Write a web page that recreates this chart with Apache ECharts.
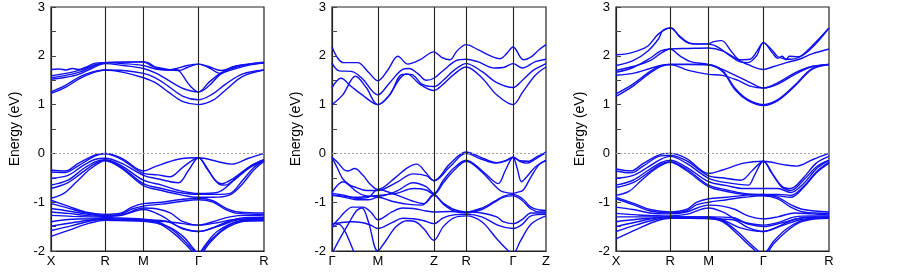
<!DOCTYPE html>
<html>
<head>
<meta charset="utf-8">
<script src="https://cdn.jsdelivr.net/npm/echarts@6.0.0/dist/echarts.min.js"></script>
<style>
html,body{margin:0;padding:0;background:#fff;}
#main{width:903px;height:272px;}
</style>
</head>
<body>
<div id="main"></div>
<script>
// k-path ticks (k as % of path length) and labels
var kTicks1 = [0, 25.4, 43.4, 69.3, 100];
var kNames1 = ['X', 'R', 'M', 'Γ', 'R'];
var kTicks2 = [0, 21.4, 47.6, 62.7, 84.6, 100];
var kNames2 = ['Γ', 'M', 'Z', 'R', 'Γ', 'Z'];
var kTicks3 = [0, 25.4, 43.5, 69.2, 100];
var kNames3 = ['X', 'R', 'M', 'Γ', 'R'];

// ---- panel 1 bands [k, E] ----
var p1c1 = [[0,1.23],[7,1.36],[13,1.52],[19.5,1.65],[25.4,1.71],[34,1.66],[43.4,1.55],[49,1.45],[55,1.26],[62,1.06],[69.3,1.0],[76,1.09],[82,1.3],[90,1.58],[100,1.71]];
var p1c2 = [[0,1.26],[7,1.4],[13,1.56],[19.5,1.67],[25.4,1.71],[34,1.7],[43.4,1.64],[49,1.55],[55,1.38],[62,1.17],[69.3,1.1],[76,1.22],[82,1.42],[90,1.63],[100,1.71]];
var p1c3 = [[0,1.52],[7,1.56],[13,1.62],[19.5,1.75],[25.4,1.84],[34,1.8],[43.4,1.74],[49,1.65],[55,1.5],[62,1.33],[69.3,1.26],[74,1.38],[79.5,1.62],[84,1.7],[92,1.8],[100,1.85]];
var p1c4 = [[0,1.55],[7,1.6],[13,1.66],[19.5,1.78],[25.4,1.86],[34,1.84],[43.4,1.8],[49,1.73],[55,1.71],[58,1.73],[64,1.8],[69.3,1.83],[74,1.76],[79.5,1.64],[84,1.73],[92,1.82],[100,1.86]];
var p1c5 = [[0,1.59],[7,1.64],[13,1.7],[19.5,1.8],[25.4,1.86],[34,1.87],[43.4,1.88],[46,1.85],[50,1.74],[56,1.71],[59,1.72],[61,1.65],[65,1.4],[69.3,1.26],[74,1.45],[79.5,1.64],[86,1.78],[100,1.85]];
var p1c6 = [[0,1.72],[4,1.73],[7,1.71],[10,1.74],[13,1.72],[16,1.76],[21,1.85],[25.4,1.86],[34,1.87],[43.4,1.87],[48,1.78],[55,1.72],[60,1.7],[64,1.76],[69.3,1.83],[74,1.78],[80,1.7],[88,1.8],[100,1.87]];
var p1v1 = [[0,-0.34],[6.7,-0.36],[13,-0.2],[20.8,-0.03],[25.4,0],[33.3,-0.1],[43.4,-0.36],[48.9,-0.27],[59.8,-0.12],[69.3,-0.09],[78.6,-0.17],[84.8,-0.22],[92.7,-0.1],[100,0]];
var p1v2 = [[0,-0.38],[6.7,-0.39],[13,-0.25],[20.8,-0.05],[25.4,-0.01],[33.3,-0.13],[43.4,-0.41],[50,-0.44],[55.8,-0.48],[62,-0.28],[69.3,-0.09],[73,-0.3],[78.6,-0.62],[81.8,-0.65],[88,-0.45],[94,-0.25],[100,-0.13]];
var p1v3 = [[0,-0.51],[8,-0.45],[15,-0.25],[21,-0.12],[25.4,-0.1],[33,-0.2],[43.4,-0.45],[50,-0.52],[59.8,-0.6],[64.5,-0.35],[69.3,-0.09],[73,-0.28],[77,-0.55],[80,-0.62],[86,-0.5],[93,-0.28],[100,-0.13]];
var p1v4 = [[0,-0.65],[8,-0.55],[15,-0.32],[21,-0.17],[25.4,-0.13],[33,-0.25],[43.4,-0.55],[52,-0.65],[60,-0.76],[69.3,-0.82],[78,-0.8],[86,-0.55],[93,-0.3],[100,-0.15]];
var p1v5 = [[0,-0.72],[8,-0.6],[15,-0.38],[21,-0.2],[25.4,-0.14],[33,-0.28],[43.4,-0.62],[52,-0.72],[60,-0.8],[69.3,-0.84],[78,-0.84],[84,-0.82],[90,-0.55],[95,-0.3],[100,-0.15]];
var p1v6 = [[0,-0.92],[6,-0.82],[12,-0.58],[19,-0.3],[25.4,-0.15],[33,-0.3],[43.4,-0.66],[52,-0.76],[60,-0.84],[69.3,-0.9],[76,-0.9],[84,-0.85],[90,-0.62],[95,-0.35],[100,-0.16]];
var p1l1 = [[0,-0.96],[8,-1.08],[16,-1.2],[25.4,-1.25],[33,-1.22],[38,-1.1],[43.4,-1.03],[52,-1.0],[60,-0.95],[69.3,-0.92],[76,-0.97],[82,-1.12],[88,-1.2],[100,-1.22]];
var p1l2 = [[0,-1.03],[8,-1.12],[16,-1.22],[25.4,-1.27],[33,-1.24],[38,-1.14],[43.4,-1.08],[52,-1.04],[60,-0.99],[69.3,-0.95],[76,-1.0],[82,-1.15],[88,-1.23],[100,-1.25]];
var p1l3 = [[0,-1.13],[8,-1.18],[16,-1.24],[25.4,-1.28],[33,-1.26],[43.4,-1.12],[50,-1.14],[56,-1.22],[62,-1.4],[69.3,-1.47],[76,-1.4],[84,-1.3],[92,-1.27],[100,-1.28]];
var p1l4 = [[0,-1.2],[8,-1.23],[16,-1.27],[25.4,-1.29],[33,-1.27],[43.4,-1.15],[52,-1.28],[60,-1.5],[69.3,-1.6],[76,-1.52],[84,-1.38],[92,-1.31],[100,-1.31]];
var p1l5 = [[0,-1.27],[10,-1.29],[25.4,-1.31],[35,-1.33],[43.4,-1.35],[50,-1.4],[58,-1.6],[64,-1.85],[69.3,-2.05],[74,-1.82],[80,-1.58],[86,-1.42],[92,-1.36],[100,-1.34]];
var p1l6 = [[0,-1.4],[10,-1.35],[25.4,-1.34],[35,-1.36],[43.4,-1.37],[50,-1.42],[58,-1.65],[64,-1.9],[69.3,-2.1],[74,-1.86],[80,-1.6],[86,-1.45],[92,-1.38],[100,-1.37]];
var p1l7 = [[0,-1.49],[10,-1.42],[18,-1.37],[25.4,-1.34],[35,-1.35],[43.4,-1.36],[55,-1.4],[62,-1.55],[69.3,-1.6],[78,-1.5],[88,-1.36],[100,-1.33]];
var p1l8 = [[0,-1.58],[10,-1.48],[18,-1.39],[25.4,-1.35],[35,-1.37],[43.4,-1.38],[55,-1.4],[62,-1.44],[69.3,-1.47],[78,-1.42],[88,-1.35],[100,-1.36]];
var p1l9 = [[0,-1.7],[10,-1.55],[18,-1.43],[25.4,-1.37],[35,-1.38],[43.4,-1.39],[55,-1.5],[62,-1.7],[66,-1.9],[69.3,-2.05],[72,-1.9],[78,-1.6],[88,-1.4],[100,-1.38]];

// ---- panel 2 bands ----
var p2c1 = [[0,2.18],[2.7,1.95],[5.3,1.86],[12,1.86],[16.7,1.68],[21.4,1.49],[26.1,1.71],[30.8,1.99],[35.5,1.83],[41.2,1.92],[47.6,2.08],[51.2,1.97],[55.2,1.92],[58.2,2.09],[62.7,2.23],[68.4,2.12],[74.6,1.99],[78.6,1.94],[81.7,2.05],[84.6,2.18],[89.5,1.92],[93.4,1.99],[96.6,2.12],[100,2.23]];
var p2c2 = [[0,1.85],[3.4,1.69],[9,1.68],[14,1.54],[21.4,1.2],[27,1.45],[33,1.72],[36,1.74],[40,1.64],[44,1.5],[47.6,1.54],[52,1.7],[58,1.9],[62.7,1.93],[68,1.88],[76,1.75],[80,1.76],[84.6,1.84],[89,1.75],[95,1.88],[100,1.93]];
var p2c3 = [[0,1.35],[4.2,1.54],[9,1.37],[15,1.17],[21.4,1.0],[27,1.2],[33,1.62],[37,1.62],[42,1.42],[47.6,1.37],[52,1.5],[57,1.7],[62.7,1.84],[70,1.68],[77,1.45],[84.6,1.35],[89,1.5],[94,1.7],[100,1.84]];
var p2c4 = [[0,1.0],[5,1.2],[11,1.58],[16,1.35],[21.4,1.0],[26,1.15],[32,1.55],[35,1.63],[41,1.42],[47.6,1.29],[52,1.42],[57,1.62],[62.7,1.77],[70,1.55],[77,1.2],[84.6,1.0],[89,1.25],[95,1.6],[100,1.77]];
var p2v1 = [[0,-0.08],[3,-0.2],[5.5,-0.33],[7.5,-0.36],[10.6,-0.31],[14.5,-0.45],[17.6,-0.62],[21.4,-0.74],[30,-0.48],[35,-0.3],[39.5,-0.22],[44,-0.4],[47.6,-0.56],[55,-0.22],[62.7,0.03],[69,-0.07],[77,-0.19],[81,-0.15],[84.6,-0.08],[88,-0.17],[91,-0.2],[95,-0.12],[100,0.03]];
var p2v2 = [[0,-0.08],[2.5,-0.3],[5,-0.52],[8,-0.64],[11.4,-0.7],[16,-0.76],[21.4,-0.76],[30,-0.6],[37.9,-0.42],[44.2,-0.46],[47.6,-0.56],[55,-0.28],[62.7,0.0],[70,-0.12],[77,-0.2],[81,-0.16],[84.6,-0.08],[88,-0.15],[92,-0.16],[96,-0.06],[100,0.0]];
var p2v3 = [[0,-0.8],[5.2,-0.58],[8,-0.65],[11.4,-0.78],[15,-0.86],[21.4,-0.88],[30,-0.78],[37.9,-0.6],[44,-0.68],[47.6,-0.82],[52,-0.55],[57,-0.3],[62.7,-0.14],[70,-0.35],[75,-0.55],[77.7,-0.62],[81,-0.35],[84.6,-0.08],[86.5,-0.3],[88.6,-0.58],[91,-0.48],[95,-0.28],[100,-0.14]];
var p2v4 = [[0,-0.85],[6,-0.88],[11.4,-0.9],[17,-0.88],[21.4,-0.86],[30,-0.82],[37.9,-0.72],[44,-0.75],[47.6,-0.84],[52,-0.6],[57,-0.35],[62.7,-0.16],[70,-0.38],[76,-0.66],[78.5,-0.76],[81,-0.8],[84.6,-0.82],[86.5,-0.8],[89.4,-0.75],[93,-0.48],[97,-0.22],[100,-0.15]];
var p2v5 = [[0,-0.82],[6,-0.86],[11.4,-0.92],[17,-0.9],[21.4,-0.74],[30,-0.85],[37.9,-0.98],[43,-1.03],[47.6,-0.86],[52,-1.02],[57,-1.15],[62.7,-1.2],[70,-1.12],[76,-0.98],[80,-0.88],[84.6,-0.84],[89,-0.93],[93,-1.1],[97,-1.16],[100,-1.17]];
var p2v6 = [[0,-0.86],[6,-0.9],[11.4,-0.95],[17,-0.95],[21.4,-0.9],[28,-0.98],[35,-1.04],[42,-1.06],[47.6,-0.84],[52,-1.04],[57,-1.18],[62.7,-1.22],[70,-1.15],[76,-1.0],[80,-0.9],[84.6,-0.87],[89,-0.97],[93,-1.14],[97,-1.2],[100,-1.2]];
var p2l1 = [[0,-1.49],[3,-1.35],[6,-1.2],[9.5,-1.1],[14.5,-1.1],[18.5,-1.22],[21.4,-1.36],[28,-1.2],[33,-1.12],[38,-1.13],[44,-1.18],[47.6,-1.2],[55,-1.19],[62.7,-1.2],[70,-1.22],[77,-1.3],[80,-1.4],[84.6,-1.44],[89,-1.35],[93,-1.22],[100,-1.22]];
var p2l2 = [[0,-1.44],[4,-1.42],[9,-1.4],[14.5,-1.42],[18.5,-1.48],[21.4,-1.54],[28,-1.42],[33,-1.33],[38,-1.34],[43,-1.38],[47.6,-1.44],[52,-1.32],[57,-1.26],[62.7,-1.25],[70,-1.3],[78,-1.48],[84.6,-1.54],[89,-1.45],[93,-1.28],[100,-1.25]];
var p2l3 = [[0,-2.05],[4,-1.72],[8,-1.42],[11,-1.2],[14,-1.12],[17,-1.4],[21.4,-2.0],[25,-1.8],[30,-1.5],[35,-1.38],[39,-1.4],[43,-1.55],[47.6,-1.78],[52,-1.5],[57,-1.32],[62.7,-1.28],[70,-1.4],[77,-1.75],[82,-1.98],[84.6,-2.05],[88,-1.8],[93,-1.45],[100,-1.28]];
var p2l4 = [[0,-1.52],[3,-1.45],[5.5,-1.55],[8,-1.78],[10.5,-2.05],[12,-2.2]];

// ---- panel 3 bands ----
var p3c1 = [[0,1.17],[8,1.38],[16,1.65],[21,1.78],[25.4,1.82],[34,1.82],[43.5,1.81],[50,1.68],[56,1.3],[62,1.08],[69.2,0.98],[76,1.08],[84,1.38],[92,1.72],[100,1.82]];
var p3c2 = [[0,1.22],[8,1.42],[16,1.68],[21,1.8],[25.4,1.83],[34,1.83],[43.5,1.82],[50,1.7],[56,1.33],[62,1.1],[69.2,1.0],[76,1.1],[84,1.4],[92,1.74],[100,1.83]];
var p3c3 = [[0,1.6],[8,1.64],[16,1.74],[21,1.8],[25.4,1.82],[34,1.7],[43.5,1.62],[50,1.6],[57,1.5],[63,1.38],[69.2,1.34],[76,1.45],[84,1.65],[92,1.78],[100,1.82]];
var p3c4 = [[0,1.66],[8,1.76],[16,1.95],[21,2.1],[25.4,2.14],[34,2.15],[43.5,2.16],[50,2.1],[56,1.95],[62,1.82],[69.2,1.72],[74,1.78],[80,1.86],[86,1.93],[92,2.04],[100,2.14]];
var p3c5 = [[0,1.7],[8,1.78],[16,1.9],[21,2.05],[25.4,2.14],[30,2.0],[35,1.88],[43.5,1.82],[50,1.72],[56,1.6],[63,1.45],[69.2,1.34],[76,1.42],[84,1.62],[92,1.78],[100,1.82]];
var p3c6 = [[0,2.02],[5,2.04],[10,2.1],[15,2.2],[20,2.45],[25.4,2.57],[30,2.4],[34,2.27],[38,2.24],[43.5,2.25],[46,2.29],[49.6,2.31],[54,2.1],[58.2,1.92],[62.9,1.93],[66,2.08],[69.2,2.27],[73.6,2.05],[75.9,1.95],[78,1.99],[79.9,1.92],[81.4,1.99],[85.4,1.98],[91.6,2.15],[100,2.57]];
var p3c7 = [[0,1.8],[8,1.9],[15,2.1],[20,2.35],[22,2.52],[25.4,2.57],[27,2.55],[30,2.38],[35,2.25],[43.5,2.24],[47,2.2],[53,2.02],[58,1.88],[62,1.86],[66,2.0],[69.2,2.27],[73.6,2.1],[76,1.98],[79,1.94],[82,1.93],[86,1.97],[92,2.2],[100,2.57]];
var p3v1 = [[0,-0.32],[7,-0.36],[13,-0.2],[21,-0.02],[25.4,0],[33,-0.1],[43.5,-0.41],[50,-0.34],[60,-0.2],[69.2,-0.16],[78.6,-0.23],[84.8,-0.26],[92.7,-0.12],[100,0]];
var p3v2 = [[0,-0.36],[7,-0.4],[13,-0.25],[21,-0.05],[25.4,-0.04],[33,-0.15],[43.5,-0.46],[50,-0.5],[58.6,-0.55],[64,-0.35],[69.2,-0.16],[73,-0.4],[78,-0.68],[82,-0.72],[88,-0.5],[94,-0.2],[100,-0.06]];
var p3v3 = [[0,-0.51],[8,-0.45],[15,-0.28],[21,-0.12],[25.4,-0.06],[33,-0.2],[43.5,-0.51],[52,-0.6],[62,-0.65],[65,-0.45],[69.2,-0.16],[74,-0.45],[78,-0.7],[82,-0.76],[88,-0.55],[94,-0.28],[100,-0.14]];
var p3v4 = [[0,-0.65],[8,-0.55],[15,-0.35],[21,-0.19],[25.4,-0.14],[33,-0.28],[43.5,-0.58],[52,-0.66],[60,-0.72],[69.2,-0.72],[76,-0.72],[82,-0.8],[88,-0.62],[94,-0.32],[100,-0.14]];
var p3v5 = [[0,-0.7],[8,-0.6],[15,-0.4],[21,-0.22],[25.4,-0.17],[33,-0.32],[43.5,-0.65],[52,-0.75],[60,-0.82],[69.2,-0.84],[76,-0.84],[82,-0.86],[88,-0.68],[94,-0.38],[100,-0.18]];
var p3v6 = [[0,-0.86],[6,-0.78],[12,-0.55],[19,-0.3],[25.4,-0.18],[33,-0.35],[43.5,-0.68],[52,-0.78],[60,-0.84],[69.2,-0.86],[76,-0.87],[82,-0.9],[88,-0.7],[94,-0.4],[100,-0.2]];
var p3l1 = [[0,-0.9],[8,-1.02],[16,-1.15],[25.4,-1.2],[33,-1.15],[38,-1.0],[43.5,-0.93],[52,-0.9],[60,-0.86],[69.2,-0.84],[76,-0.9],[82,-1.05],[88,-1.15],[100,-1.2]];
var p3l2 = [[0,-0.93],[8,-1.05],[16,-1.18],[25.4,-1.22],[33,-1.18],[38,-1.05],[43.5,-1.0],[52,-0.95],[60,-0.9],[69.2,-0.87],[76,-0.93],[82,-1.1],[88,-1.2],[100,-1.23]];
var p3l3 = [[0,-1.1],[8,-1.15],[16,-1.22],[25.4,-1.24],[33,-1.2],[43.5,-1.06],[50,-1.08],[56,-1.15],[62,-1.28],[69.2,-1.34],[76,-1.3],[84,-1.22],[92,-1.24],[100,-1.26]];
var p3l4 = [[0,-1.23],[10,-1.26],[25.4,-1.28],[33,-1.25],[43.5,-1.12],[50,-1.2],[58,-1.38],[69.2,-1.47],[76,-1.42],[84,-1.3],[92,-1.28],[100,-1.28]];
var p3l5 = [[0,-1.3],[10,-1.3],[25.4,-1.3],[35,-1.3],[43.5,-1.3],[50,-1.36],[58,-1.52],[69.2,-1.6],[76,-1.5],[84,-1.35],[92,-1.3],[100,-1.3]];
var p3l6 = [[0,-1.4],[10,-1.35],[25.4,-1.31],[35,-1.31],[43.5,-1.32],[50,-1.38],[57,-1.6],[63,-1.85],[69.2,-2.05],[74,-1.8],[80,-1.55],[86,-1.4],[92,-1.33],[100,-1.32]];
var p3l7 = [[0,-1.5],[10,-1.4],[18,-1.33],[25.4,-1.3],[35,-1.32],[43.5,-1.33],[50,-1.4],[57,-1.65],[63,-1.9],[69.2,-2.1],[74,-1.85],[80,-1.6],[86,-1.42],[92,-1.35],[100,-1.33]];
var p3l8 = [[0,-1.6],[10,-1.46],[18,-1.36],[25.4,-1.31],[35,-1.3],[43.5,-1.3],[55,-1.32],[62,-1.45],[69.2,-1.5],[78,-1.42],[88,-1.32],[100,-1.3]];
var p3l9 = [[0,-1.75],[10,-1.55],[18,-1.4],[25.4,-1.33],[35,-1.33],[43.5,-1.34],[55,-1.36],[62,-1.52],[69.2,-1.6],[78,-1.48],[88,-1.35],[100,-1.33]];

var bands1 = [p1c1,p1c2,p1c3,p1c4,p1c5,p1c6,p1v1,p1v2,p1v3,p1v4,p1v5,p1v6,p1l1,p1l2,p1l3,p1l4,p1l5,p1l6,p1l7,p1l8,p1l9];
var bands2 = [p2c1,p2c2,p2c3,p2c4,p2v1,p2v2,p2v3,p2v4,p2v5,p2v6,p2l1,p2l2,p2l3,p2l4];
var bands3 = [p3c1,p3c2,p3c3,p3c4,p3c5,p3c6,p3c7,p3v1,p3v2,p3v3,p3v4,p3v5,p3v6,p3l1,p3l2,p3l3,p3l4,p3l5,p3l6,p3l7,p3l8,p3l9];

var BLUE = '#1010f2';
var FONT = 'Liberation Sans, Arial, sans-serif';

var myChart = echarts.init(document.getElementById('main'), null, {renderer: 'canvas'});

var grids = [
    {left: 51, top: 7, width: 213, height: 244},
    {left: 332, top: 7, width: 214, height: 244},
    {left: 616, top: 7, width: 213, height: 244}
];
var tickSets = [kTicks1, kTicks2, kTicks3];
var nameSets = [kNames1, kNames2, kNames3];
var bandSets = [bands1, bands2, bands3];

var xAxes = [], yAxes = [], series = [];
for (var g = 0; g < 3; g++) {
    grids[g].show = true;
    grids[g].borderColor = '#222';
    grids[g].borderWidth = 1.2;
    (function (ticks, names) {
        xAxes.push({
            type: 'value', gridIndex: g, min: 0, max: 100,
            axisLine: {show: true, onZero: false, lineStyle: {color: '#222', width: 1.2}},
            axisTick: {show: false},
            splitLine: {show: false},
            axisLabel: {
                customValues: ticks,
                margin: 4,
                color: '#000', fontSize: 13, fontFamily: FONT,
                formatter: function (v) {
                    for (var i = 0; i < ticks.length; i++) {
                        if (Math.abs(ticks[i] - v) < 0.01) return names[i];
                    }
                    return '';
                }
            }
        });
    })(tickSets[g], nameSets[g]);
    yAxes.push({
        type: 'value', gridIndex: g, min: -2, max: 3, interval: 1,
        name: 'Energy (eV)', nameLocation: 'middle', nameGap: 29,
        nameTextStyle: {color: '#000', fontSize: 14, fontFamily: FONT},
        axisLine: {show: true, onZero: false, lineStyle: {color: '#222', width: 1.2}},
        axisTick: {show: true, inside: true, length: 5, lineStyle: {color: '#444'}},
        minorTick: {show: true, splitNumber: 2, length: 5, lineStyle: {color: '#444'}},
        splitLine: {show: false},
        axisLabel: {margin: 6, color: '#000', fontSize: 13, fontFamily: FONT}
    });

    // high-symmetry vertical lines
    var vlines = tickSets[g].slice(1, tickSets[g].length - 1).map(function (k) {
        return {xAxis: k};
    });

    bandSets[g].forEach(function (b, i) {
        var s = {
            type: 'line', xAxisIndex: g, yAxisIndex: g,
            data: b, smooth: 0.35, symbol: 'none', silent: true,
            lineStyle: {color: BLUE, width: 1.4},
            animation: false
        };
        if (i === 0) {
            s.markLine = {silent: true, symbol: ['none', 'none'], label: {show: false}, animation: false,
                lineStyle: {color: '#222', width: 1.1, type: 'solid'}, data: vlines};
        }
        if (i === 1) {
            // dotted Fermi level
            s.markLine = {silent: true, symbol: ['none', 'none'], label: {show: false}, animation: false,
                lineStyle: {color: '#a0a0a0', width: 1, type: [2, 2]}, data: [{yAxis: 0}]};
        }
        series.push(s);
    });
}

var option = {
    animation: false,
    backgroundColor: '#fff',
    grid: grids,
    xAxis: xAxes,
    yAxis: yAxes,
    series: series
};
myChart.setOption(option);
</script>
</body>
</html>
